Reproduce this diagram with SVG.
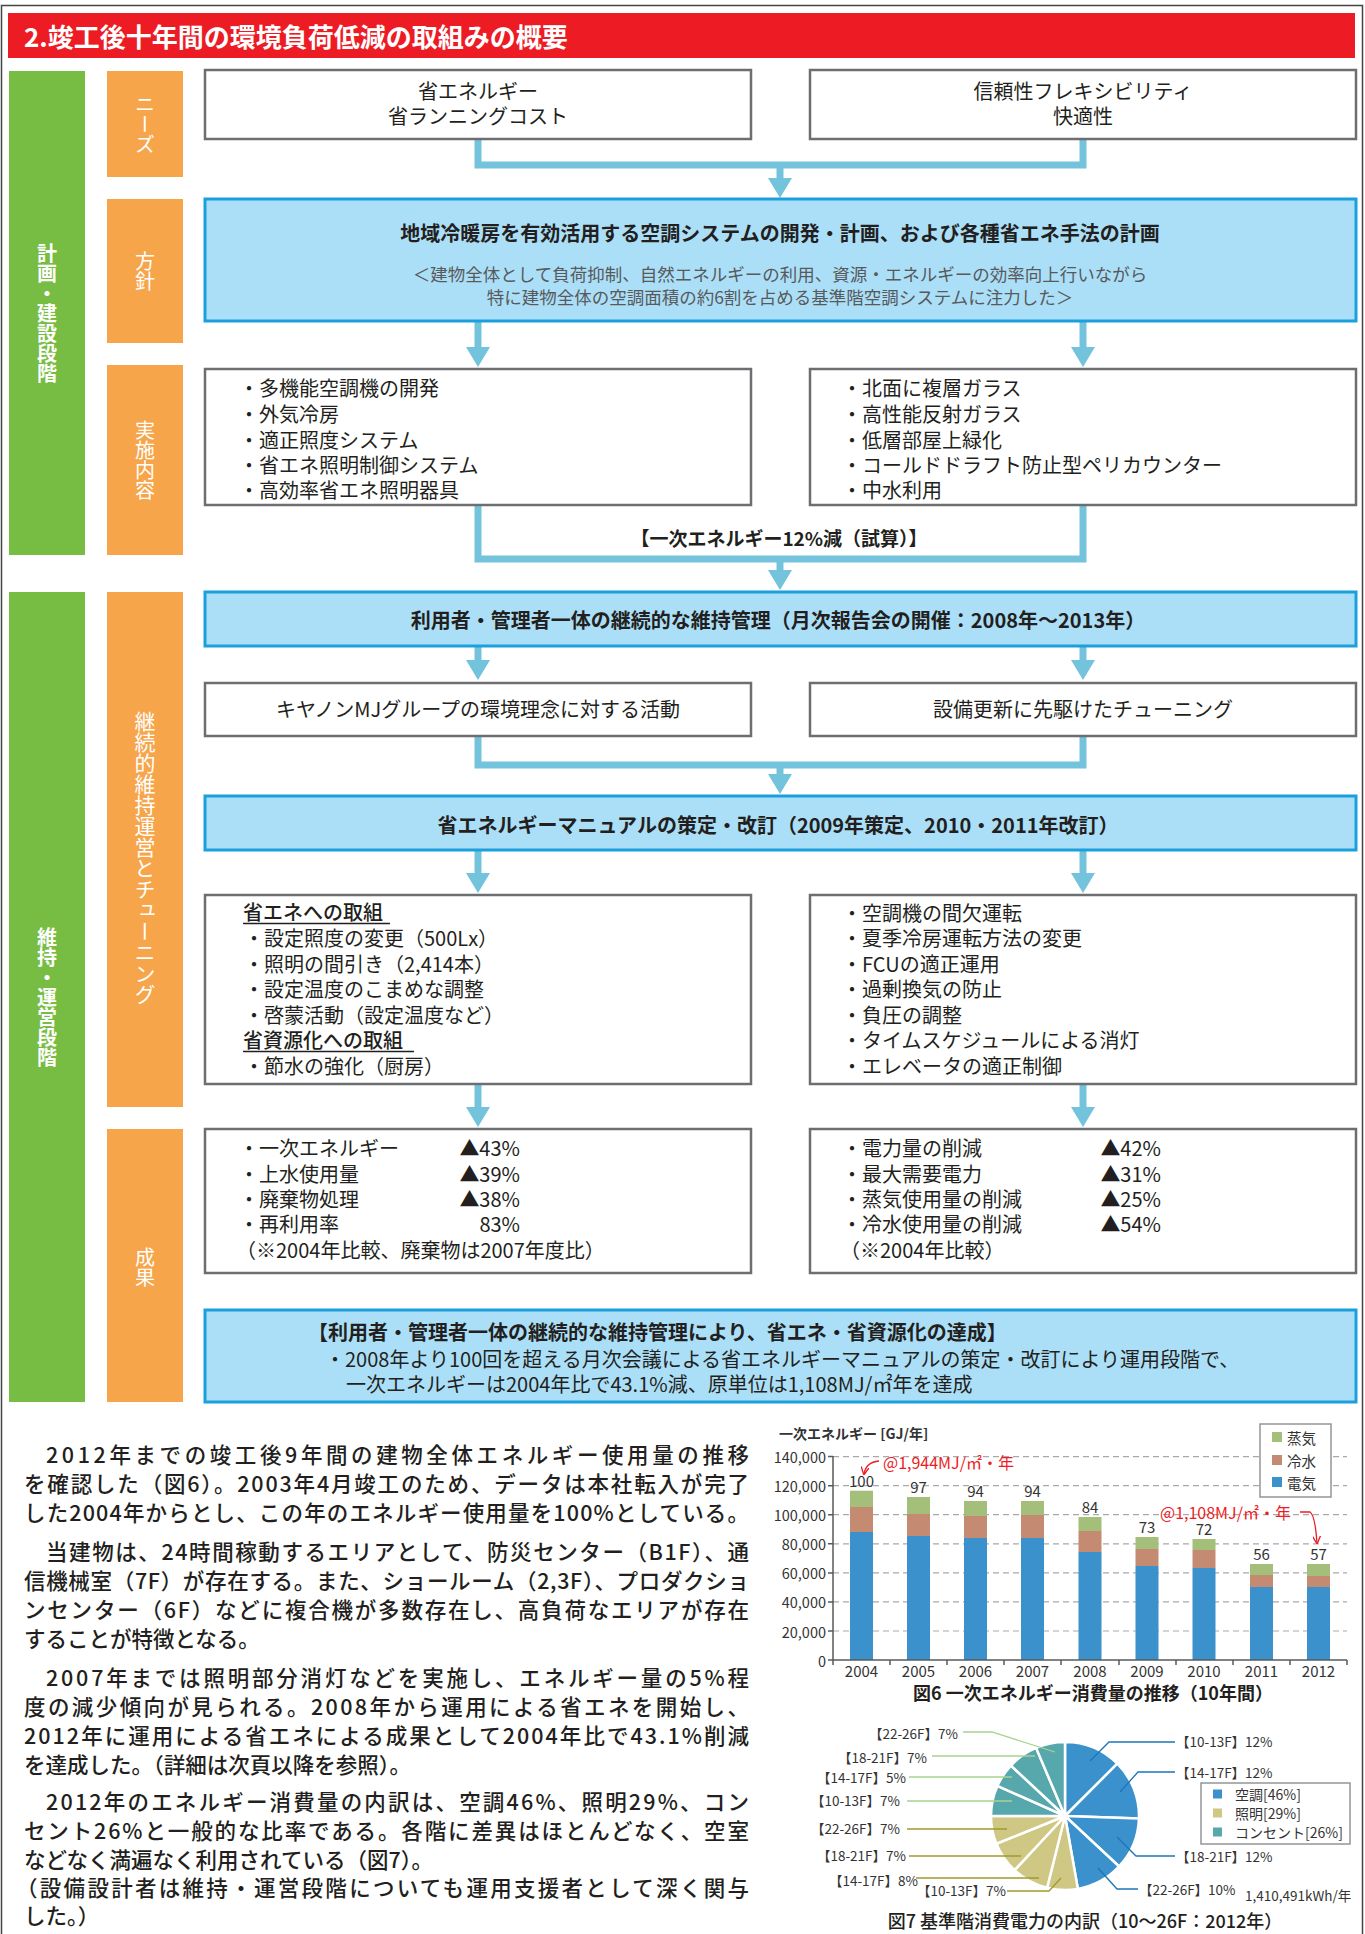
<svg xmlns="http://www.w3.org/2000/svg" width="1365" height="1934" viewBox="0 0 1365 1934">
<style>
text{font-family:'Noto Sans CJK JP','Noto Sans',sans-serif;fill:#231f20;dominant-baseline:central}
.bx{fill:#fff;stroke:#6d6e71;stroke-width:2.5}
.bb{fill:#abdff8;stroke:#1aa0dc;stroke-width:3}
.con{fill:none;stroke:#74c3dc;stroke-width:7}
.t20{font-size:20px}
.b{font-weight:bold}
.c{text-anchor:middle}
.e{text-anchor:end}
.vg{writing-mode:vertical-rl;text-anchor:middle;fill:#fff;font-size:20px;font-weight:bold}
.vo{writing-mode:vertical-rl;text-anchor:middle;fill:#fff;font-size:20px}
.p{font-size:21.5px;font-weight:500}
.grid{stroke:#a7a9ac;stroke-width:1.2;stroke-dasharray:6 4}
.ax{stroke:#58595b;stroke-width:1.5;fill:none}
.yl{font-size:14.5px;fill:#333;text-anchor:end}
.xl{font-size:15px;fill:#333;text-anchor:middle}
.vl{font-size:15px;fill:#333;text-anchor:middle;dominant-baseline:auto}
.st{fill:#a3bf79}.cw{fill:#c58a72}.el{fill:#3b91cc}
.pl{font-size:13.5px;fill:#333}
.red{fill:#ed1c24;font-size:16px}
</style>
<defs>
<marker id="ah" markerUnits="userSpaceOnUse" markerWidth="20" markerHeight="24" viewBox="0 0 20 24" refX="0" refY="12" orient="auto"><path d="M0,0 L20,12 L0,24 Z" fill="#74c3dc"/></marker>
<marker id="ra" markerUnits="userSpaceOnUse" markerWidth="8" markerHeight="8" viewBox="0 0 8 8" refX="7" refY="4" orient="auto"><path d="M0,0 L8,4 L0,8" fill="none" stroke="#ed1c24" stroke-width="1.3"/></marker>
</defs>
<rect width="1365" height="1934" fill="#fff"/>
<path d="M1.5 1934 V5.5 H1362.5 V1934" fill="none" stroke="#444" stroke-width="1.5"/>

<g id="title">
<rect x="8" y="13" width="1347" height="45" fill="#ed1c24"/>
<text x="24" y="35" fill="#fff" style="fill:#fff;font-size:26px;font-weight:bold">2.竣工後十年間の環境負荷低減の取組みの概要</text>
</g>

<g id="stage-plan"><rect x="9" y="71" width="76" height="484" fill="#77bc43"/><text class="vg" x="47" y="313">計画・建設段階</text></g>
<g id="stage-ops"><rect x="9" y="592" width="76" height="810" fill="#77bc43"/><text class="vg" x="47" y="997">維持・運営段階</text></g>
<g id="lbl-needs"><rect x="107" y="71" width="76" height="106" fill="#f7a54a"/><text class="vo" x="145" y="124">ニーズ</text></g>
<g id="lbl-policy"><rect x="107" y="199" width="76" height="144" fill="#f7a54a"/><text class="vo" x="145" y="271">方針</text></g>
<g id="lbl-impl"><rect x="107" y="365" width="76" height="190" fill="#f7a54a"/><text class="vo" x="145" y="460">実施内容</text></g>
<g id="lbl-tuning"><rect x="107" y="592" width="76" height="515" fill="#f7a54a"/><text class="vo" x="145" y="858" style="font-size:21px">継続的維持運営とチューニング</text></g>
<g id="lbl-result"><rect x="107" y="1129" width="76" height="273" fill="#f7a54a"/><text class="vo" x="145" y="1267">成果</text></g>

<g id="connectors">
<path class="con" d="M478 139 V165 H1083 V139"/>
<path class="con" d="M780 165 V178" marker-end="url(#ah)"/>
<path class="con" d="M478 321 V347" marker-end="url(#ah)"/>
<path class="con" d="M1083 321 V347" marker-end="url(#ah)"/>
<path class="con" d="M478 505 V559 H1083 V505"/>
<path class="con" d="M780 559 V570" marker-end="url(#ah)"/>
<path class="con" d="M478 646 V660" marker-end="url(#ah)"/>
<path class="con" d="M1083 646 V660" marker-end="url(#ah)"/>
<path class="con" d="M478 736 V765 H1083 V736"/>
<path class="con" d="M780 765 V774" marker-end="url(#ah)"/>
<path class="con" d="M478 850 V873" marker-end="url(#ah)"/>
<path class="con" d="M1083 850 V873" marker-end="url(#ah)"/>
<path class="con" d="M478 1084 V1107" marker-end="url(#ah)"/>
<path class="con" d="M1083 1084 V1107" marker-end="url(#ah)"/>
<text class="b c" x="779" y="537" style="font-size:19px">【一次エネルギー12%減（試算）】</text>
</g>

<g id="needs-left"><rect class="bx" x="205" y="70" width="546" height="69"/>
<text class="t20 c" x="478" y="90">省エネルギー</text><text class="t20 c" x="478" y="115">省ランニングコスト</text></g>
<g id="needs-right"><rect class="bx" x="810" y="70" width="546" height="69"/>
<text class="t20 c" x="1083" y="90">信頼性フレキシビリティ</text><text class="t20 c" x="1083" y="115">快適性</text></g>

<g id="policy"><rect class="bb" x="205" y="199" width="1151" height="122"/>
<text class="t20 b c" x="780" y="232">地域冷暖房を有効活用する空調システムの開発・計画、および各種省エネ手法の計画</text>
<text class="c" x="780" y="273" style="font-size:17.5px;fill:#58595b">＜建物全体として負荷抑制、自然エネルギーの利用、資源・エネルギーの効率向上行いながら</text>
<text class="c" x="780" y="296" style="font-size:17.5px;fill:#58595b">特に建物全体の空調面積の約6割を占める基準階空調システムに注力した＞</text></g>

<g id="impl-left"><rect class="bx" x="205" y="369" width="546" height="136"/>
<text class="t20" x="239" y="387">・多機能空調機の開発</text>
<text class="t20" x="239" y="413">・外気冷房</text>
<text class="t20" x="239" y="439">・適正照度システム</text>
<text class="t20" x="239" y="464">・省エネ照明制御システム</text>
<text class="t20" x="239" y="489">・高効率省エネ照明器具</text></g>
<g id="impl-right"><rect class="bx" x="810" y="369" width="546" height="136"/>
<text class="t20" x="842" y="387">・北面に複層ガラス</text>
<text class="t20" x="842" y="413">・高性能反射ガラス</text>
<text class="t20" x="842" y="439">・低層部屋上緑化</text>
<text class="t20" x="842" y="464">・コールドドラフト防止型ペリカウンター</text>
<text class="t20" x="842" y="489">・中水利用</text></g>

<g id="maint"><rect class="bb" x="205" y="592" width="1151" height="54"/>
<text class="t20 b c" x="778" y="619">利用者・管理者一体の継続的な維持管理（月次報告会の開催：2008年～2013年）</text></g>

<g id="act-left"><rect class="bx" x="205" y="683" width="546" height="53"/><text class="t20 c" x="478" y="708">キヤノンMJグループの環境理念に対する活動</text></g>
<g id="act-right"><rect class="bx" x="810" y="683" width="546" height="53"/><text class="t20 c" x="1083" y="708">設備更新に先駆けたチューニング</text></g>

<g id="manual"><rect class="bb" x="205" y="796" width="1151" height="54"/>
<text class="t20 b c" x="778" y="824">省エネルギーマニュアルの策定・改訂（2009年策定、2010・2011年改訂）</text></g>

<g id="tune-left"><rect class="bx" x="205" y="895" width="546" height="189"/>
<text class="t20" x="243" y="911" style="font-weight:500">省エネへの取組</text>
<line x1="243" y1="923.5" x2="390" y2="923.5" stroke="#231f20" stroke-width="1.5"/>
<text class="t20" x="244" y="937">・設定照度の変更（500Lx）</text>
<text class="t20" x="244" y="963">・照明の間引き（2,414本）</text>
<text class="t20" x="244" y="988">・設定温度のこまめな調整</text>
<text class="t20" x="244" y="1014">・啓蒙活動（設定温度など）</text>
<text class="t20" x="243" y="1039" style="font-weight:500">省資源化への取組</text>
<line x1="243" y1="1051.5" x2="414" y2="1051.5" stroke="#231f20" stroke-width="1.5"/>
<text class="t20" x="244" y="1065">・節水の強化（厨房）</text></g>
<g id="tune-right"><rect class="bx" x="810" y="895" width="546" height="189"/>
<text class="t20" x="842" y="912">・空調機の間欠運転</text>
<text class="t20" x="842" y="937">・夏季冷房運転方法の変更</text>
<text class="t20" x="842" y="963">・FCUの適正運用</text>
<text class="t20" x="842" y="988">・過剰換気の防止</text>
<text class="t20" x="842" y="1014">・負圧の調整</text>
<text class="t20" x="842" y="1039">・タイムスケジュールによる消灯</text>
<text class="t20" x="842" y="1065">・エレベータの適正制御</text></g>

<g id="result-left"><rect class="bx" x="205" y="1129" width="546" height="144"/>
<text class="t20" x="239" y="1147">・一次エネルギー</text><text class="t20 e" x="520" y="1147">▲43%</text>
<text class="t20" x="239" y="1173">・上水使用量</text><text class="t20 e" x="520" y="1173">▲39%</text>
<text class="t20" x="239" y="1198">・廃棄物処理</text><text class="t20 e" x="520" y="1198">▲38%</text>
<text class="t20" x="239" y="1223">・再利用率</text><text class="t20 e" x="520" y="1223">83%</text>
<text class="t20" x="236" y="1249">（※2004年比較、廃棄物は2007年度比）</text></g>
<g id="result-right"><rect class="bx" x="810" y="1129" width="546" height="144"/>
<text class="t20" x="842" y="1147">・電力量の削減</text><text class="t20 e" x="1161" y="1147">▲42%</text>
<text class="t20" x="842" y="1173">・最大需要電力</text><text class="t20 e" x="1161" y="1173">▲31%</text>
<text class="t20" x="842" y="1198">・蒸気使用量の削減</text><text class="t20 e" x="1161" y="1198">▲25%</text>
<text class="t20" x="842" y="1223">・冷水使用量の削減</text><text class="t20 e" x="1161" y="1223">▲54%</text>
<text class="t20" x="840" y="1249">（※2004年比較）</text></g>

<g id="achievement"><rect class="bb" x="205" y="1310" width="1151" height="92"/>
<text class="t20 b" x="308" y="1331">【利用者・管理者一体の継続的な維持管理により、省エネ・省資源化の達成】</text>
<text class="t20" x="325" y="1358">・2008年より100回を超える月次会議による省エネルギーマニュアルの策定・改訂により運用段階で、</text>
<text class="t20" x="346" y="1383">一次エネルギーは2004年比で43.1%減、原単位は1,108MJ/㎡年を達成</text></g>

<g id="paragraph">
<text class="p" x="46" y="1453" textLength="703" lengthAdjust="spacing">2012年までの竣工後9年間の建物全体エネルギー使用量の推移</text>
<text class="p" x="24" y="1482" textLength="725" lengthAdjust="spacing">を確認した（図6）。2003年4月竣工のため、データは本社転入が完了</text>
<text class="p" x="24" y="1511" textLength="725" lengthAdjust="spacing">した2004年からとし、この年のエネルギー使用量を100%としている。</text>
<text class="p" x="46" y="1550" textLength="703" lengthAdjust="spacing">当建物は、24時間稼動するエリアとして、防災センター（B1F）、通</text>
<text class="p" x="24" y="1579" textLength="725" lengthAdjust="spacing">信機械室（7F）が存在する。また、ショールーム（2,3F）、プロダクショ</text>
<text class="p" x="24" y="1608" textLength="725" lengthAdjust="spacing">ンセンター（6F）などに複合機が多数存在し、高負荷なエリアが存在</text>
<text class="p" x="24" y="1637">することが特徴となる。</text>
<text class="p" x="46" y="1676" textLength="703" lengthAdjust="spacing">2007年までは照明部分消灯などを実施し、エネルギー量の5%程</text>
<text class="p" x="24" y="1705" textLength="725" lengthAdjust="spacing">度の減少傾向が見られる。2008年から運用による省エネを開始し、</text>
<text class="p" x="24" y="1734" textLength="725" lengthAdjust="spacing">2012年に運用による省エネによる成果として2004年比で43.1%削減</text>
<text class="p" x="24" y="1763">を達成した。（詳細は次頁以降を参照）。</text>
<text class="p" x="46" y="1800" textLength="703" lengthAdjust="spacing">2012年のエネルギー消費量の内訳は、空調46%、照明29%、コン</text>
<text class="p" x="24" y="1829" textLength="725" lengthAdjust="spacing">セント26%と一般的な比率である。各階に差異はほとんどなく、空室</text>
<text class="p" x="24" y="1858">などなく満遍なく利用されている（図7）。</text>
<text class="p" x="16" y="1886" textLength="733" lengthAdjust="spacing">（設備設計者は維持・運営段階についても運用支援者として深く関与</text>
<text class="p" x="24" y="1914">した。）</text>
</g>

<g id="fig6">
<text x="779" y="1433" style="font-size:14px;font-weight:bold;fill:#333">一次エネルギー [GJ/年]</text>
<g>
<line class="grid" x1="833" y1="1456.6" x2="1347" y2="1456.6"/>
<line class="grid" x1="833" y1="1485.7" x2="1347" y2="1485.7"/>
<line class="grid" x1="833" y1="1514.7" x2="1347" y2="1514.7"/>
<line class="grid" x1="833" y1="1543.8" x2="1347" y2="1543.8"/>
<line class="grid" x1="833" y1="1572.9" x2="1347" y2="1572.9"/>
<line class="grid" x1="833" y1="1601.9" x2="1347" y2="1601.9"/>
<line class="grid" x1="833" y1="1631" x2="1347" y2="1631"/>
</g>
<g class="yl">
<text class="yl" x="826" y="1456.6">140,000</text>
<text class="yl" x="826" y="1485.7">120,000</text>
<text class="yl" x="826" y="1514.7">100,000</text>
<text class="yl" x="826" y="1543.8">80,000</text>
<text class="yl" x="826" y="1572.9">60,000</text>
<text class="yl" x="826" y="1601.9">40,000</text>
<text class="yl" x="826" y="1631">20,000</text>
<text class="yl" x="826" y="1660">0</text>
</g>
<g>
<rect class="el" x="850" y="1532" width="23" height="128"/><rect class="cw" x="850" y="1507" width="23" height="25"/><rect class="st" x="850" y="1490.7" width="23" height="16.3"/>
<rect class="el" x="907" y="1536" width="23" height="124"/><rect class="cw" x="907" y="1514" width="23" height="22"/><rect class="st" x="907" y="1497" width="23" height="17"/>
<rect class="el" x="964" y="1538" width="23" height="122"/><rect class="cw" x="964" y="1516" width="23" height="22"/><rect class="st" x="964" y="1501" width="23" height="15"/>
<rect class="el" x="1021" y="1538" width="23" height="122"/><rect class="cw" x="1021" y="1515" width="23" height="23"/><rect class="st" x="1021" y="1501" width="23" height="14"/>
<rect class="el" x="1078.5" y="1552" width="23" height="108"/><rect class="cw" x="1078.5" y="1531" width="23" height="21"/><rect class="st" x="1078.5" y="1517" width="23" height="14"/>
<rect class="el" x="1135.5" y="1566" width="23" height="94"/><rect class="cw" x="1135.5" y="1549" width="23" height="17"/><rect class="st" x="1135.5" y="1537" width="23" height="12"/>
<rect class="el" x="1192.5" y="1568" width="23" height="92"/><rect class="cw" x="1192.5" y="1550" width="23" height="18"/><rect class="st" x="1192.5" y="1539" width="23" height="11"/>
<rect class="el" x="1250" y="1587" width="23" height="73"/><rect class="cw" x="1250" y="1575" width="23" height="12"/><rect class="st" x="1250" y="1564" width="23" height="11"/>
<rect class="el" x="1307" y="1587" width="23" height="73"/><rect class="cw" x="1307" y="1576" width="23" height="11"/><rect class="st" x="1307" y="1564" width="23" height="12"/>
</g>
<path class="ax" d="M833 1456 V1660 H1347"/>
<path class="ax" d="M828 1456.6 H833 M828 1485.7 H833 M828 1514.7 H833 M828 1543.8 H833 M828 1572.9 H833 M828 1601.9 H833 M828 1631 H833 M828 1660 H833 M833 1660 V1665 M890 1660 V1665 M947 1660 V1665 M1004 1660 V1665 M1061 1660 V1665 M1119 1660 V1665 M1176 1660 V1665 M1233 1660 V1665 M1290 1660 V1665 M1347 1660 V1665"/>
<g>
<text class="vl" x="861.5" y="1487">100</text>
<text class="vl" x="918.5" y="1493">97</text>
<text class="vl" x="975.5" y="1497">94</text>
<text class="vl" x="1032.5" y="1497">94</text>
<text class="vl" x="1090" y="1513">84</text>
<text class="vl" x="1147" y="1533">73</text>
<text class="vl" x="1204" y="1535">72</text>
<text class="vl" x="1261.5" y="1560">56</text>
<text class="vl" x="1318.5" y="1560">57</text>
</g>
<g>
<text class="xl" x="861.5" y="1670">2004</text>
<text class="xl" x="918.5" y="1670">2005</text>
<text class="xl" x="975.5" y="1670">2006</text>
<text class="xl" x="1032.5" y="1670">2007</text>
<text class="xl" x="1090" y="1670">2008</text>
<text class="xl" x="1147" y="1670">2009</text>
<text class="xl" x="1204" y="1670">2010</text>
<text class="xl" x="1261.5" y="1670">2011</text>
<text class="xl" x="1318.5" y="1670">2012</text>
</g>
<text class="red" x="883" y="1462" style="fill:#ed1c24">@1,944MJ/㎡・年</text>
<path d="M879 1461 Q866 1462 864 1474" fill="none" stroke="#ed1c24" stroke-width="1.3" marker-end="url(#ra)"/>
<text class="red" x="1160" y="1512" style="fill:#ed1c24">@1,108MJ/㎡・年</text>
<path d="M1300 1512 H1310 Q1315 1515 1317 1543" fill="none" stroke="#ed1c24" stroke-width="1.3" marker-end="url(#ra)"/>
<g>
<rect x="1260" y="1424" width="71" height="73" fill="#fff" stroke="#939598" stroke-width="1.5"/>
<rect class="st" x="1272" y="1432" width="10" height="10"/><text x="1287" y="1437" style="font-size:14.5px;fill:#333">蒸気</text>
<rect class="cw" x="1272" y="1455" width="10" height="10"/><text x="1287" y="1460" style="font-size:14.5px;fill:#333">冷水</text>
<rect class="el" x="1272" y="1477" width="10" height="10"/><text x="1287" y="1482" style="font-size:14.5px;fill:#333">電気</text>
</g>
<text class="b c" x="1093" y="1692" style="font-size:18px">図6 一次エネルギー消費量の推移（10年間）</text>
</g>

<g id="fig7">
<g stroke="#fff" stroke-width="2.5" stroke-linejoin="round">
<path fill="#3b91cc" d="M1065 1816 L1065 1742 A74 74 0 0 1 1117.33 1763.67 Z"/>
<path fill="#3b91cc" d="M1065 1816 L1117.33 1763.67 A74 74 0 0 1 1138.95 1818.58 Z"/>
<path fill="#3b91cc" d="M1065 1816 L1138.95 1818.58 A74 74 0 0 1 1119.12 1866.47 Z"/>
<path fill="#3b91cc" d="M1065 1816 L1119.12 1866.47 A74 74 0 0 1 1077.85 1888.88 Z"/>
<path fill="#cfc784" d="M1065 1816 L1077.85 1888.88 A74 74 0 0 1 1047.10 1887.80 Z"/>
<path fill="#cfc784" d="M1065 1816 L1047.10 1887.80 A74 74 0 0 1 1014.53 1870.12 Z"/>
<path fill="#cfc784" d="M1065 1816 L1014.53 1870.12 A74 74 0 0 1 996.39 1843.72 Z"/>
<path fill="#cfc784" d="M1065 1816 L996.39 1843.72 A74 74 0 0 1 991 1816 Z"/>
<path fill="#57a8ad" d="M1065 1816 L991 1816 A74 74 0 0 1 997.40 1785.90 Z"/>
<path fill="#57a8ad" d="M1065 1816 L997.40 1785.90 A74 74 0 0 1 1010.88 1765.53 Z"/>
<path fill="#57a8ad" d="M1065 1816 L1010.88 1765.53 A74 74 0 0 1 1036.09 1747.88 Z"/>
<path fill="#57a8ad" d="M1065 1816 L1036.09 1747.88 A74 74 0 0 1 1065 1742 Z"/>
</g>
<g fill="none" stroke-width="1.3">
<path stroke="#1b75bb" d="M1090 1761 L1109 1742 H1175 M1120 1792 L1138 1772 H1175 M1117 1837 L1136 1856 H1175 M1098 1868 L1117 1889 H1138"/>
<path stroke="#a39a2c" d="M907 1829 H1007 M909 1856 H1021 M916 1878 H1039 M1007 1891 H1049 L1061 1878"/>
<path stroke="#a6d48e" d="M963 1732 H992 L1055 1752 M932 1756 H1035 M909 1777 H1012 M907 1801 H1012"/>
</g>
<g>
<text class="pl" x="1176" y="1741">【10-13F】12%</text>
<text class="pl" x="1176" y="1772">【14-17F】12%</text>
<text class="pl" x="1176" y="1856">【18-21F】12%</text>
<text class="pl" x="1139" y="1889">【22-26F】10%</text>
<text class="pl" x="1245" y="1895" style="font-size:13.5px">1,410,491kWh/年</text>
<text class="pl e" x="900" y="1828">【22-26F】7%</text>
<text class="pl e" x="906" y="1855">【18-21F】7%</text>
<text class="pl e" x="918" y="1880">【14-17F】8%</text>
<text class="pl e" x="1006" y="1890">【10-13F】7%</text>
<text class="pl e" x="958" y="1733">【22-26F】7%</text>
<text class="pl e" x="927" y="1757">【18-21F】7%</text>
<text class="pl e" x="906" y="1777">【14-17F】5%</text>
<text class="pl e" x="900" y="1800">【10-13F】7%</text>
</g>
<g>
<rect x="1201" y="1783" width="149" height="61" fill="#fff" stroke="#939598" stroke-width="1.5"/>
<rect x="1213" y="1789.5" width="9" height="9" fill="#3b91cc"/><text class="pl" x="1235" y="1794" style="font-size:14px">空調[46%]</text>
<rect x="1213" y="1808.5" width="9" height="9" fill="#cfc784"/><text class="pl" x="1235" y="1813" style="font-size:14px">照明[29%]</text>
<rect x="1213" y="1827.5" width="9" height="9" fill="#57a8ad"/><text class="pl" x="1235" y="1832" style="font-size:14px">コンセント[26%]</text>
</g>
<text class="c" x="1085" y="1920" style="font-size:18px;font-weight:500">図7 基準階消費電力の内訳（10～26F：2012年）</text>
</g>
</svg>
